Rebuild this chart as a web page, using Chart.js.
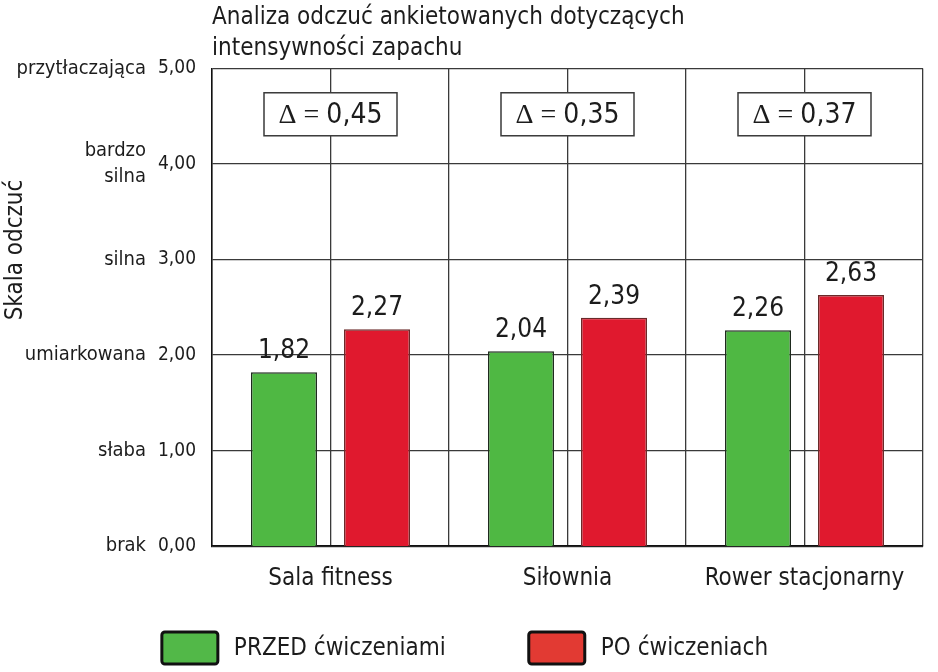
<!DOCTYPE html>
<html lang="pl">
<head>
<meta charset="utf-8">
<title>Intensywność zapachu</title>
<style>
  html, body { margin: 0; padding: 0; background: #fff; }
  #wrap { width: 938px; height: 672px; position: relative; }
</style>
</head>
<body>
<div id="wrap"><canvas id="chart"></canvas></div>
<script src="https://cdn.jsdelivr.net/npm/chart.js@4.4.1/dist/chart.umd.min.js"></script>
<script>
const categories = ["Sala fitness", "Siłownia", "Rower stacjonarny"];
const przed = [1.82, 2.04, 2.26];
const po = [2.27, 2.39, 2.63];
const seriesNames = ["PRZED ćwiczeniami", "PO ćwiczeniach"];
const deltas = [0.45, 0.35, 0.37];
const scaleWords = ["brak", "słaba", "umiarkowana", "silna", ["bardzo", "silna"], "przytłaczająca"];
const titleLines = ["Analiza odczuć ankietowanych dotyczących", "intensywności zapachu"];
const yTitle = "Skala odczuć";

const FONT = "'Liberation Sans Narrow', 'DejaVu Sans Condensed', sans-serif";
const SERIF = "'Liberation Serif', 'DejaVu Serif', serif";
const GRID = "#3a3a3a";
const TXT = "#1c1c1c";

Chart.defaults.font.family = FONT;
Chart.defaults.color = TXT;

const comma = v => v.toFixed(2).replace(".", ",");

// value labels, delta boxes, rotated y title and the legend at the bottom
const extras = {
  id: "extras",
  afterDatasetsDraw(chart) {
    const ctx = chart.ctx;
    ctx.save();
    ctx.fillStyle = TXT;
    ctx.font = "26px " + FONT;
    ctx.textAlign = "center";
    ctx.textBaseline = "bottom";
    chart.data.datasets.forEach((ds, di) => {
      chart.getDatasetMeta(di).data.forEach((bar, i) => {
        ctx.fillText(comma(ds.data[i]), bar.x, bar.y - 8);
      });
    });
    ctx.restore();
  },
  afterDraw(chart) {
    const ctx = chart.ctx;
    const xs = chart.scales.x, ys = chart.scales.y;

    // delta boxes
    ctx.save();
    deltas.forEach((d, i) => {
      const cx = xs.getPixelForValue(i);
      const cy = ys.getPixelForValue(4.52);
      const w = 133, h = 43;
      ctx.fillStyle = "#fff";
      ctx.fillRect(cx - w / 2, cy - h / 2, w, h);
      ctx.strokeStyle = GRID;
      ctx.lineWidth = 1.5;
      ctx.strokeRect(cx - w / 2, cy - h / 2, w, h);
      const a = "\u0394 = ";
      const b = comma(d);
      ctx.font = "28px " + SERIF;
      const wa = ctx.measureText(a).width;
      ctx.font = "28px " + FONT;
      const wb = ctx.measureText(b).width;
      let x = cx - (wa + wb) / 2;
      ctx.fillStyle = TXT;
      ctx.textBaseline = "middle";
      ctx.textAlign = "left";
      ctx.font = "28px " + SERIF;
      ctx.fillText(a, x, cy + 1);
      ctx.font = "28px " + FONT;
      ctx.fillText(b, x + wa, cy + 1);
    });
    ctx.restore();

    // y axis title
    ctx.save();
    ctx.translate(16, ys.getPixelForValue(3.1));
    ctx.rotate(-Math.PI / 2);
    ctx.font = "24px " + FONT;
    ctx.fillStyle = TXT;
    ctx.textAlign = "center";
    ctx.textBaseline = "middle";
    ctx.fillText(yTitle, 0, 0);
    ctx.restore();

    // legend
    ctx.save();
    ctx.font = "24px " + FONT;
    const boxW = 56, boxH = 32, textGap = 16, itemGap = 83;
    const items = chart.data.datasets.map(ds => ({
      label: ds.label, color: ds.legendColor, w: boxW + textGap + ctx.measureText(ds.label).width
    }));
    const total = items.reduce((s, it) => s + it.w, 0) + itemGap * (items.length - 1);
    let lx = (chart.width - total) / 2 - 4;
    const ly = 632;
    items.forEach(it => {
      ctx.fillStyle = it.color;
      ctx.strokeStyle = "#111";
      ctx.lineWidth = 3;
      ctx.beginPath();
      ctx.roundRect(lx, ly, boxW, boxH, 3);
      ctx.fill();
      ctx.stroke();
      ctx.fillStyle = TXT;
      ctx.textAlign = "left";
      ctx.textBaseline = "middle";
      ctx.fillText(it.label, lx + boxW + textGap, ly + boxH / 2 + 1);
      lx += it.w + itemGap;
    });
    ctx.restore();
  }
};

new Chart(document.getElementById("chart"), {
  type: "bar",
  data: {
    labels: categories,
    datasets: [
      {
        label: seriesNames[0],
        data: przed,
        backgroundColor: "#4fb843",
        legendColor: "#52b848",
        borderColor: "#1e2a1e",
        borderWidth: 1.5,
        categoryPercentage: 0.785,
        barPercentage: 0.71
      },
      {
        label: seriesNames[1],
        data: po,
        backgroundColor: "#e0192e",
        legendColor: "#e23a33",
        borderColor: "#6a2a2a",
        borderWidth: 1.5,
        categoryPercentage: 0.785,
        barPercentage: 0.71
      }
    ]
  },
  options: {
    responsive: true,
    maintainAspectRatio: false,
    animation: false,
    layout: { padding: { left: 17, right: 15, top: 2, bottom: 61 } },
    plugins: {
      legend: { display: false },
      tooltip: { enabled: false },
      title: {
        display: true,
        text: titleLines,
        align: "start",
        fullSize: false,
        color: TXT,
        font: { size: 24, weight: "normal", lineHeight: 1.3 },
        padding: { top: 0, bottom: 4 }
      }
    },
    scales: {
      x: {
        type: "category",
        offset: true,
        grid: { offset: true, color: GRID, lineWidth: 1.3, drawTicks: false },
        border: { color: "#111", width: 1.5 },
        ticks: { padding: 18, color: TXT, font: { size: 24 } }
      },
      xMid: {
        type: "category",
        labels: categories,
        position: "bottom",
        offset: true,
        grid: { offset: false, color: GRID, lineWidth: 1.3, drawTicks: false },
        border: { display: false },
        ticks: { display: false }
      },
      yw: {
        position: "left",
        weight: 1,
        min: 0,
        max: 5,
        afterFit: s => { s.width = 141; },
        grid: { display: false, drawTicks: false },
        border: { display: false },
        ticks: {
          stepSize: 1,
          padding: 12,
          color: TXT,
          font: { size: 20, lineHeight: 1.3 },
          callback: v => scaleWords[v]
        }
      },
      y: {
        position: "left",
        weight: 0,
        min: 0,
        max: 5,
        afterFit: s => { s.width = 54; },
        grid: { color: GRID, lineWidth: 1.3, drawTicks: false },
        border: { color: "#111", width: 1.5 },
        ticks: {
          stepSize: 1,
          padding: 16,
          color: TXT,
          font: { size: 19 },
          callback: v => comma(v)
        }
      }
    }
  },
  plugins: [extras]
});
</script>
</body>
</html>
